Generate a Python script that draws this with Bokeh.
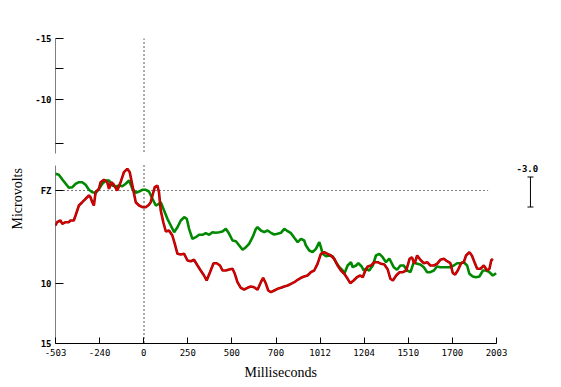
from bokeh.plotting import figure
from bokeh.models import Range1d, FixedTicker, Label, Arrow, TeeHead, Title
from bokeh.embed import file_html
from bokeh.resources import INLINE

# ---------------- data ----------------
x_tick_pos = [-503, -252.4, -1.8, 248.8, 499.4, 750.0, 1000.6, 1251.2, 1501.8, 1752.4, 2003]
x_tick_labels = ["-503", "-240", "0", "250", "500", "700", "1012", "1204", "1510", "1700", "2003"]

y_tick_pos = [-15.2, -12.2, -9.1, -4.7, 0, 9.3, 15.3]
y_tick_labels = ["-15", "", "-10", "", "FZ", "10", "15"]

green_ms = [-503, -484, -464, -446, -427, -407, -389, -370, -351, -332,
            -313, -294, -275, -256, -237, -218, -199, -180, -161, -142,
            -123, -104, -85, -66, -47, -28, -9, 10, 28, 48,
            67, 85, 95, 114, 133, 152, 171, 190, 209, 228,
            243, 256, 275, 294, 313, 332, 351, 370, 389, 408,
            427, 446, 465, 484, 503, 522, 541, 560, 579, 597,
            617, 636, 645, 664, 683, 702, 721, 740, 759, 778,
            797, 816, 835, 854, 873, 892, 910, 920, 939, 958,
            977, 996, 1005, 1015, 1034, 1053, 1072, 1091, 1110, 1129,
            1138, 1157, 1176, 1186, 1205, 1218, 1237, 1248, 1261, 1280,
            1300, 1318, 1337, 1356, 1375, 1394, 1419, 1438, 1457, 1476,
            1495, 1514, 1533, 1552, 1570, 1590, 1609, 1627, 1647, 1665,
            1684, 1704, 1722, 1741, 1760, 1779, 1798, 1817, 1836, 1849,
            1868, 1887, 1906, 1926, 1944, 1963, 1982, 2001]
green_uv = [-1.67, -1.57, -1.1, -0.7, -0.27, -0.33, -0.67, -0.83, -0.83, -0.57,
            -0.07, 0.17, 0.23, -0.17, -0.67, -1.0, -1.0, -0.5, -0.4, -0.5,
            -0.43, -0.67, -1.0, -0.17, 0.23, 0.1, -0.07, -0.07, 0.1, 0.83,
            1.5, 1.33, 1.17, 2.0, 2.83, 3.5, 4.17, 3.67, 3.0, 2.67,
            2.83, 3.83, 4.83, 4.67, 4.43, 4.43, 4.27, 4.43, 4.17, 4.23,
            4.17, 4.1, 3.83, 4.33, 5.0, 5.07, 5.5, 5.93, 5.67, 5.33,
            4.67, 3.83, 3.67, 4.0, 4.17, 4.0, 4.23, 4.4, 4.33, 4.23,
            3.83, 4.07, 4.27, 4.73, 5.17, 4.83, 5.0, 5.5, 6.0, 6.17,
            5.83, 5.17, 5.67, 6.33, 6.57, 6.5, 6.6, 7.17, 7.67, 8.0,
            8.33, 7.5, 7.17, 7.67, 7.5, 7.27, 7.6, 8.0, 7.83, 8.0,
            7.5, 6.5, 6.33, 6.67, 7.17, 6.8, 7.67, 7.93, 7.5, 7.5,
            8.0, 8.17, 7.17, 7.33, 7.4, 7.67, 8.17, 8.17, 8.0, 7.6,
            7.67, 7.67, 7.67, 7.67, 7.5, 7.27, 7.27, 7.17, 7.5, 8.33,
            8.6, 8.67, 8.6, 8.0, 8.0, 8.17, 8.5, 8.27]

red_ms = [-503, -494, -475, -464, -446, -427, -418, -399, -389, -370,
          -351, -332, -313, -304, -294, -285, -275, -256, -247, -228,
          -209, -199, -186, -171, -152, -133, -114, -95, -81, -66,
          -47, -28, -9, 10, 28, 38, 48, 61, 76, 85,
          95, 110, 124, 142, 161, 175, 190, 209, 228, 247,
          266, 284, 304, 322, 341, 356, 375, 395, 413, 432,
          446, 465, 484, 503, 516, 531, 550, 569, 588, 607,
          626, 645, 664, 677, 693, 706, 721, 740, 759, 778,
          797, 816, 835, 854, 873, 892, 910, 929, 948, 967,
          986, 1005, 1024, 1043, 1062, 1081, 1100, 1119, 1138, 1157,
          1172, 1191, 1210, 1229, 1243, 1256, 1271, 1290, 1309, 1328,
          1347, 1366, 1385, 1400, 1414, 1433, 1452, 1471, 1490, 1509,
          1522, 1537, 1552, 1570, 1590, 1609, 1627, 1647, 1665, 1684,
          1704, 1722, 1741, 1755, 1768, 1783, 1802, 1817, 1830, 1849,
          1863, 1878, 1893, 1912, 1931, 1950, 1963, 1973, 1982]
red_uv = [3.5, 3.17, 3.0, 3.33, 3.17, 3.17, 3.0, 3.0, 2.5, 1.5,
          1.17, 0.83, 0.5, 0.67, 1.17, 1.5, 0.17, -0.17, -0.83, -1.07,
          -0.83, -0.17, -0.83, -0.57, 0.0, -0.83, -1.83, -2.17, -1.83, -0.5,
          1.17, 1.5, 1.67, 1.67, 1.43, 1.17, 0.5, -0.33, -0.5, 0.17,
          2.0, 3.2, 4.1, 4.0, 4.5, 5.33, 6.33, 6.4, 6.33, 7.0,
          7.07, 6.93, 7.5, 8.0, 8.5, 9.0, 8.17, 7.27, 7.27, 7.5,
          8.0, 8.0, 7.9, 7.83, 8.33, 9.17, 9.73, 9.9, 9.73, 9.6,
          9.67, 9.93, 9.17, 8.73, 9.33, 10.0, 10.17, 10.0, 9.83, 9.73,
          9.6, 9.5, 9.33, 9.17, 8.93, 8.73, 8.6, 8.5, 8.17, 8.0,
          7.33, 6.33, 6.17, 6.33, 6.5, 6.83, 7.5, 8.0, 8.33, 8.83,
          9.27, 9.0, 8.67, 8.5, 8.67, 8.07, 7.6, 7.5, 7.17, 7.17,
          7.33, 7.4, 7.9, 8.83, 9.0, 8.5, 8.17, 8.17, 8.0, 6.83,
          6.67, 7.33, 6.5, 6.93, 7.27, 7.17, 7.5, 7.5, 7.33, 6.93,
          6.83, 7.07, 7.27, 8.27, 8.4, 8.0, 7.27, 7.17, 6.5, 6.17,
          6.5, 7.17, 7.83, 7.83, 7.5, 8.0, 7.83, 7.0, 6.83]

calibration_uv = 3.0
calibration_text = "-3.0"
stim_onset_ms = 0
baseline_uv = 0
axis_break = (-3.7, -2.5)

# ---------------- figure ----------------
X0, X1 = -503, 2003
Y_TOP, Y_BOT = -15.2, 15.3
W, H = 553, 387
LEFT, TOP, BOTTOM = 55, 38, 44
MS_PER_PX = (X1 - X0) / 441.0
X_VIEW_END = X0 + (W - LEFT) * MS_PER_PX   # frame extends to the right edge for the calibration bar

p = figure(width=W, height=H, output_backend="svg", toolbar_location=None,
           title=None, x_range=Range1d(X0, X_VIEW_END), y_range=Range1d(Y_BOT, Y_TOP),
           min_border_left=LEFT, min_border_right=0, min_border_top=TOP,
           min_border_bottom=BOTTOM)
p.grid.visible = False
p.outline_line_color = None
p.background_fill_color = "white"
p.border_fill_color = "white"

# x axis
p.xaxis.bounds = (X0, X1)
p.xaxis.ticker = FixedTicker(ticks=x_tick_pos)
p.xaxis.major_label_overrides = {k: v for k, v in zip(x_tick_pos, x_tick_labels)}
p.xaxis.major_tick_in = 6
p.xaxis.major_tick_out = 0
p.xaxis.minor_tick_line_color = None
p.xaxis.major_label_standoff = 5
p.xaxis.axis_line_color = "black"
p.xaxis.major_label_text_font = "DejaVu Sans Mono"
p.xaxis.major_label_text_font_size = "9px"
p.xaxis.major_label_text_color = "black"

# y axis
p.yaxis.ticker = FixedTicker(ticks=y_tick_pos)
p.yaxis.major_label_overrides = {k: v for k, v in zip(y_tick_pos, y_tick_labels)}
p.yaxis.major_tick_in = 8
p.yaxis.major_tick_out = 0
p.yaxis.minor_tick_line_color = None
p.yaxis.major_label_standoff = 4
p.yaxis.axis_line_color = None
p.yaxis.major_label_text_font = "DejaVu Sans Mono"
p.yaxis.major_label_text_font_size = "9px"
p.yaxis.major_label_text_font_style = "bold"
p.yaxis.major_label_text_color = "black"

# broken y axis line
p.add_layout(Arrow(end=None, x_start=X0, y_start=Y_TOP, x_end=X0, y_end=axis_break[0],
                   line_color="black", line_width=1))
p.add_layout(Arrow(end=None, x_start=X0, y_start=axis_break[1], x_end=X0, y_end=Y_BOT,
                   line_color="black", line_width=1))

# dotted reference lines
p.segment(x0=[stim_onset_ms, stim_onset_ms], y0=[Y_TOP, axis_break[1]],
          x1=[stim_onset_ms, stim_onset_ms], y1=[axis_break[0] - 0.2, Y_BOT],
          line_color="black", line_width=1.3, line_dash="1 3")
p.segment(x0=[X0], y0=[baseline_uv], x1=[1955], y1=[baseline_uv],
          line_color="black", line_width=1.1, line_dash="1 3")

# traces
p.line(green_ms, green_uv, line_color="#008800", line_width=2.6)
p.line(red_ms, red_uv, line_color="#a00000", line_width=2.6)
p.line(red_ms, red_uv, line_color="#e80000", line_width=1.1)

# calibration bar
cal_x = 2196
p.add_layout(Arrow(start=TeeHead(size=6, line_width=1, line_color="black"),
                   end=TeeHead(size=6, line_width=1, line_color="black"),
                   x_start=cal_x, y_start=-calibration_uv / 2 + 0.15,
                   x_end=cal_x, y_end=calibration_uv / 2 + 0.15,
                   line_color="black", line_width=1))
p.add_layout(Label(x=2178, y=-2.17, text=calibration_text, text_align="center",
                   text_baseline="middle", text_font="DejaVu Sans Mono",
                   text_font_size="9px", text_font_style="bold", text_color="black"))

# axis titles
p.add_layout(Title(text="Microvolts", align="left", offset=114, vertical_align="top",
                   standoff=12, text_font="Liberation Serif", text_font_size="14px",
                   text_font_style="normal", text_color="black"), "left")
p.add_layout(Title(text="Milliseconds", align="left", offset=189, vertical_align="top",
                   standoff=12, text_font="Liberation Serif", text_font_size="14px",
                   text_font_style="normal", text_color="black"), "below")

open("out.html", "w").write(file_html(p, INLINE))
